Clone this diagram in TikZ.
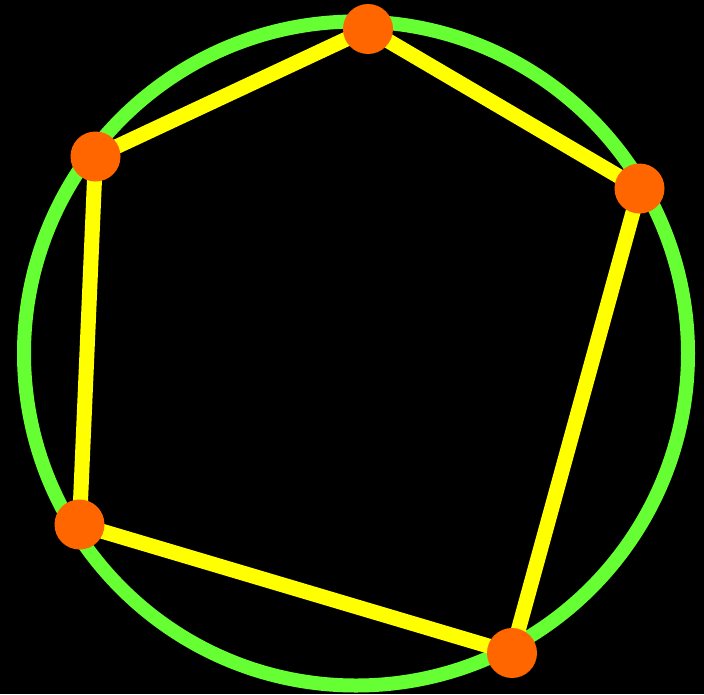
\documentclass[tikz,border=0pt]{standalone}
\definecolor{ringgreen}{HTML}{66FF33}
\definecolor{edgeyellow}{HTML}{FFFF00}
\definecolor{dotorange}{HTML}{FF6600}
\tikzset{
  ring/.style={draw=ringgreen, line width=14pt},
  edge/.style={draw=edgeyellow, line width=15pt},
  vertex/.style={circle, fill=dotorange, minimum size=50pt, inner sep=0pt}
}
\begin{document}
\begin{tikzpicture}[x=1pt,y=-1pt]
\fill[black] (0,0) rectangle (704,694);
\useasboundingbox (0,0) rectangle (704,694);
\coordinate (c) at (356,353.5);
\coordinate (pa) at (368,29);
\coordinate (pb) at (639.5,188.5);
\coordinate (pd) at (512,653);
\coordinate (pe) at (79.5,524.5);
\coordinate (pf) at (95.5,156.5);
\draw[ring] (c) circle (332);
\draw[edge] (pa) -- (pb) -- (pd) -- (pe) -- (pf) -- cycle;
\node[vertex] (a) at (pa) {};
\node[vertex] (b) at (pb) {};
\node[vertex] (d) at (pd) {};
\node[vertex] (e) at (pe) {};
\node[vertex] (f) at (pf) {};
\end{tikzpicture}
\end{document}
